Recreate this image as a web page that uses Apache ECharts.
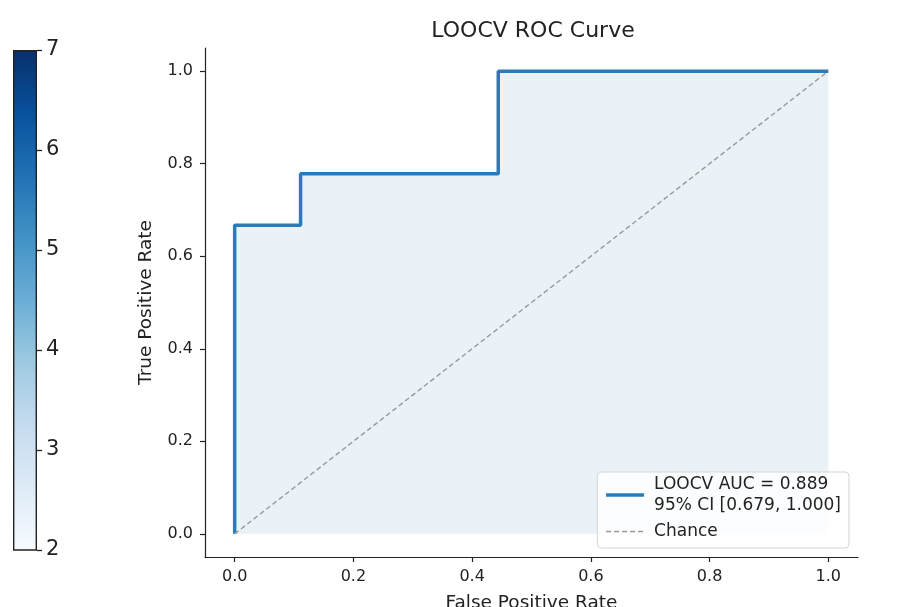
<!DOCTYPE html>
<html>
<head>
<meta charset="utf-8">
<script src="https://cdn.jsdelivr.net/npm/echarts@6/dist/echarts.min.js"></script>
<style>
  html, body { margin: 0; padding: 0; background: #fff; }
  #chart { width: 906px; height: 607px; }
</style>
</head>
<body>
<div id="chart"></div>
<script>
// ROC points (false positive rate, true positive rate)
const fpr = [0, 0, 0.111, 0.111, 0.444, 0.444, 1.0];
const tpr = [0, 0.667, 0.667, 0.778, 0.778, 1.0, 1.0];
const chanceX = [0, 1];
const chanceY = [0, 1];
const rateTicks = [0, 0.2, 0.4, 0.6, 0.8, 1.0];
const aucLabel = 'LOOCV AUC = 0.889\n95% CI [0.679, 1.000]';
const chanceLabel = 'Chance';
// colorbar
const cbarMin = 2;
const cbarMax = 7;
const bluesStops = ['#f7fbff', '#deebf7', '#c6dbef', '#9ecae1', '#6baed6', '#4292c6', '#2171b5', '#08519c', '#08306b'];

const font = 'DejaVu Sans';
const chart = echarts.init(document.getElementById('chart'));

const rocData = fpr.map((x, i) => [x, tpr[i]]);
const chanceData = chanceX.map((x, i) => [x, chanceY[i]]);

const rateAxis = (extra) => Object.assign({
  gridIndex: 0, type: 'value', min: -0.05, max: 1.05,
  nameLocation: 'middle',
  nameTextStyle: { fontFamily: font, fontSize: 18.5, color: '#222' },
  axisLine: { show: true, onZero: false, lineStyle: { color: '#222', width: 1.2 } },
  axisTick: { show: true, length: 5, customValues: rateTicks, lineStyle: { color: '#222', width: 1.2 } },
  axisLabel: {
    fontSize: 16, color: '#222', margin: 12, customValues: rateTicks,
    formatter: v => v.toFixed(1)
  },
  splitLine: { show: false }
}, extra);

chart.setOption({
  animation: false,
  textStyle: { fontFamily: font },
  title: {
    text: 'LOOCV ROC Curve',
    left: 528, top: 15, textAlign: 'center',
    textStyle: { fontFamily: font, fontSize: 22, fontWeight: 'normal', color: '#222' }
  },
  grid: [
    { left: 205, top: 48, width: 653, height: 509, outerBoundsMode: 'none', containLabel: false },
    { left: 13, top: 50, width: 24, height: 500, outerBoundsMode: 'none', containLabel: false }
  ],
  legend: {
    data: [
      { name: aucLabel, lineStyle: { width: 3.5 } },
      { name: chanceLabel, lineStyle: { width: 1.4 } }
    ],
    orient: 'vertical',
    right: 57, top: 472,
    backgroundColor: 'rgba(255,255,255,0.85)',
    borderColor: '#d5d5d5', borderWidth: 1, borderRadius: 4,
    padding: [2, 8, 6, 7],
    itemGap: 5,
    itemWidth: 38, itemHeight: 14,
    itemStyle: { opacity: 0 },
    textStyle: { fontFamily: font, fontSize: 17, color: '#222', lineHeight: 21, padding: [0, 0, 0, 5] }
  },
  xAxis: [
    rateAxis({ name: 'False Positive Rate', nameGap: 37 }),
    { gridIndex: 1, type: 'category', data: [''], show: false }
  ],
  yAxis: [
    rateAxis({ name: 'True Positive Rate', nameGap: 49 }),
    {
      gridIndex: 1, type: 'value', min: cbarMin, max: cbarMax, interval: 1, position: 'right',
      axisLine: { show: false },
      axisTick: { show: true, length: 5, lineStyle: { color: '#222', width: 1.3 } },
      axisLabel: { fontSize: 21, color: '#222', margin: 9 },
      splitLine: { show: false }
    }
  ],
  series: [{
    name: aucLabel, type: 'line', xAxisIndex: 0, yAxisIndex: 0,
    data: rocData, symbol: 'none',
    lineStyle: { color: '#2a7bba', width: 3.5 },
    itemStyle: { color: '#2a7bba' },
    areaStyle: { color: '#eaf2f7', opacity: 1 },
    z: 3
  }, {
    name: chanceLabel, type: 'line', xAxisIndex: 0, yAxisIndex: 0,
    data: chanceData, symbol: 'none',
    lineStyle: { color: '#999', width: 1.4, type: [5, 3] },
    itemStyle: { color: '#999' },
    z: 4
  }, {
    type: 'bar', xAxisIndex: 1, yAxisIndex: 1,
    data: [cbarMax], barWidth: '100%',
    itemStyle: {
      color: new echarts.graphic.LinearGradient(0, 1, 0, 0,
        bluesStops.map((c, i) => ({ offset: i / (bluesStops.length - 1), color: c }))),
      borderColor: '#222', borderWidth: 1.4
    },
    silent: true
  }]
});
</script>
</body>
</html>
